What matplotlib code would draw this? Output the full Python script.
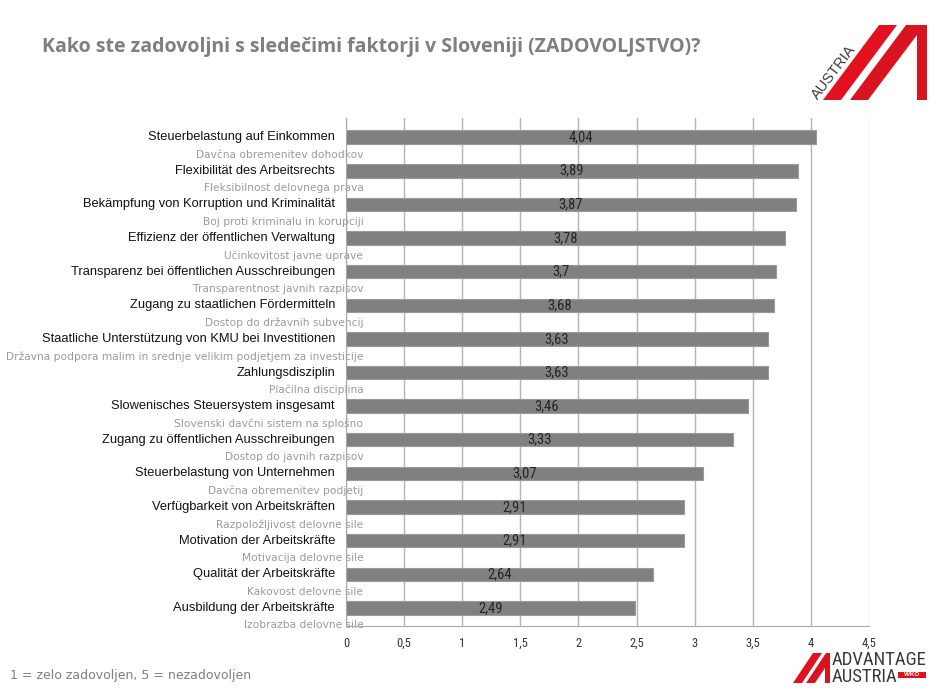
import matplotlib
matplotlib.use("Agg")
import matplotlib.pyplot as plt
from matplotlib import font_manager
from matplotlib.patches import Polygon
from matplotlib.ticker import FuncFormatter

# data
labels_de = ["Steuerbelastung auf Einkommen",
             "Flexibilität des Arbeitsrechts",
             "Bekämpfung von Korruption und Kriminalität",
             "Effizienz der öffentlichen Verwaltung",
             "Transparenz bei öffentlichen Ausschreibungen",
             "Zugang zu staatlichen Fördermitteln",
             "Staatliche Unterstützung von KMU bei Investitionen",
             "Zahlungsdisziplin",
             "Slowenisches Steuersystem insgesamt",
             "Zugang zu öffentlichen Ausschreibungen",
             "Steuerbelastung von Unternehmen",
             "Verfügbarkeit von Arbeitskräften",
             "Motivation der Arbeitskräfte",
             "Qualität der Arbeitskräfte",
             "Ausbildung der Arbeitskräfte"]
labels_sl = ["Davčna obremenitev dohodkov",
             "Fleksibilnost delovnega prava",
             "Boj proti kriminalu in korupciji",
             "Učinkovitost javne uprave",
             "Transparentnost javnih razpisov",
             "Dostop do državnih subvencij",
             "Državna podpora malim in srednje velikim podjetjem za investicije",
             "Plačilna disciplina",
             "Slovenski davčni sistem na splošno",
             "Dostop do javnih razpisov",
             "Davčna obremenitev podjetij",
             "Razpoložljivost delovne sile",
             "Motivacija delovne sile",
             "Kakovost delovne sile",
             "Izobrazba delovne sile"]
values = [4.04, 3.89, 3.87, 3.78, 3.7, 3.68, 3.63, 3.63, 3.46, 3.33, 3.07, 2.91, 2.91, 2.64, 2.49]
x_ticks = [0, 0.5, 1, 1.5, 2, 2.5, 3, 3.5, 4, 4.5]


def pick_font(names):
    have = {f.name for f in font_manager.fontManager.ttflist}
    for n in names:
        if n in have:
            return n
    return "DejaVu Sans"


narrow = pick_font(["Liberation Sans Narrow", "Roboto Condensed", "Roboto"])
arial = pick_font(["Liberation Sans", "Arial"])


def comma(v, pos=None):
    s = ("%g" % v).replace(".", ",")
    return s


fig = plt.figure(figsize=(9.4, 7), dpi=100)
ax = fig.add_axes([346 / 940, 1 - 626 / 700, (869 - 346) / 940, (626 - 118) / 700])

ypos = list(range(len(values)))
ax.barh(ypos, values, height=0.4, color="#808080", edgecolor="#9a9a9a", linewidth=0.8, zorder=3)
ax.set_ylim(len(values) - 1 + 0.54, -0.57)
ax.set_xlim(0, 4.5)
ax.set_xticks(x_ticks)
ax.xaxis.set_major_formatter(FuncFormatter(comma))
ax.grid(axis="x", color="#b4b4b4", linewidth=1, zorder=0)
ax.set_axisbelow(True)
ax.tick_params(axis="x", length=0, pad=8, labelsize=9, labelcolor="#333333")
for t in ax.get_xticklabels():
    t.set_fontfamily(narrow)
ax.set_yticks([])
for s in ["top", "right"]:
    ax.spines[s].set_visible(False)
ax.spines["left"].set_color("#a8a8a8")
ax.spines["bottom"].set_color("#a8a8a8")
ax.spines["left"].set_zorder(4)

for i, v in enumerate(values):
    ax.text(v / 2, i, comma(v), ha="center", va="center", fontsize=10.5,
            family=narrow, color="#262626", zorder=4)
    ax.text(-0.095, i, labels_de[i], ha="right", va="center", fontsize=9.3,
            family=arial, color="#111111", transform=ax.transData)
    ax.text(0.15, i + 0.52, labels_sl[i], ha="right", va="center", fontsize=7.7,
            family="DejaVu Sans", color="#9a9a9a", zorder=1, clip_on=False)

fig.text(42 / 940, 1 - 47 / 700, "Kako ste zadovoljni s sledečimi faktorji v Sloveniji (ZADOVOLJSTVO)?",
         fontsize=14, fontweight="bold", family="Open Sans", color="#7f7f7f",
         ha="left", va="center")
fig.text(10 / 940, 1 - 675 / 700, "1 = zelo zadovoljen, 5 = nezadovoljen",
         fontsize=9, family="DejaVu Sans", color="#7f7f7f", ha="left", va="center")


def fig_poly(pts, color):
    p = Polygon([(x / 940, 1 - y / 700) for x, y in pts], closed=True,
                facecolor=color, edgecolor="none", transform=fig.transFigure)
    fig.patches.append(p)


# top right logo
red = "#e3101f"
fig_poly([(823, 100), (841, 100), (897, 25), (879, 25)], red)
fig_poly([(850, 100), (868, 100), (917, 35), (917, 100), (927, 100), (927, 25), (906, 25)], "#d7141f")
fig.text(834 / 940, 1 - 72 / 700, "AUSTRIA", rotation=53, fontsize=10.5, family=arial,
         color="#3a3a3a", ha="center", va="center", rotation_mode="anchor")

# bottom right logo
fig_poly([(793, 683), (802, 683), (822, 653), (813, 653)], red)
fig_poly([(806, 683), (815, 683), (825, 668), (825, 683), (830, 683), (830, 653), (826, 653)], "#d7141f")
fig.text(832 / 940, 1 - 660 / 700, "ADVANTAGE", fontsize=13.5, family=narrow, color="#3a3a3a",
         ha="left", va="center")
fig.text(832 / 940, 1 - 677 / 700, "AUSTRIA", fontsize=13.5, family=narrow, color="#3a3a3a",
         ha="left", va="center")
fig_poly([(898, 672), (926, 672), (926, 678), (898, 678)], red)
fig.text(912 / 940, 1 - 675 / 700, "WKO", fontsize=4.5, family=arial, color="white",
         ha="center", va="center", fontweight="bold")

fig.savefig("out.png", dpi=100)
